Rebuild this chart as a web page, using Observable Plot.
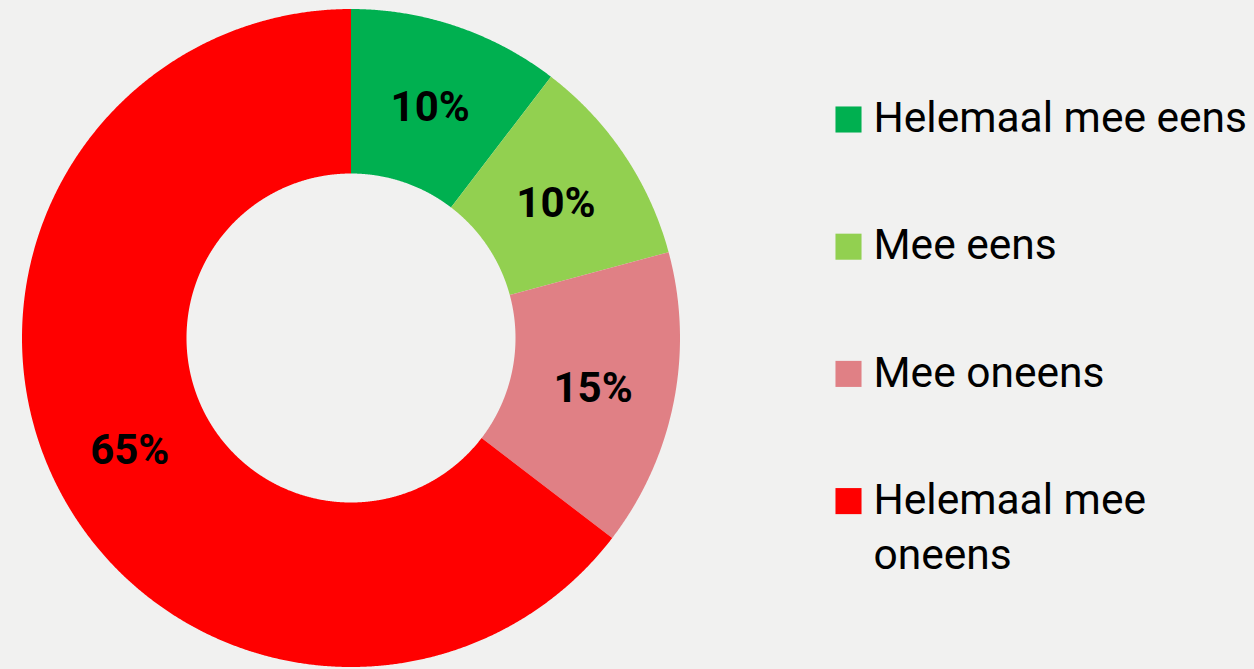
<!DOCTYPE html>
<html>
<head>
<meta charset="utf-8">
<script src="https://cdn.jsdelivr.net/npm/d3@7"></script>
<script src="https://cdn.jsdelivr.net/npm/@observablehq/plot@0.6"></script>
<style>
  html, body { margin: 0; padding: 0; background: #f1f1f0; }
  #chart { width: 1254px; height: 669px; }
</style>
</head>
<body>
<div id="chart"></div>
<script>
// ---- data ----
const categories = ["Helemaal mee eens", "Mee eens", "Mee oneens", "Helemaal mee oneens"];
const values = [10.4, 10.4, 14.6, 64.6];
const legendLabels = ["Helemaal mee eens", "Mee eens", "Mee oneens", "Helemaal mee\noneens"];
const colors = ["#00b050", "#92d050", "#e08085", "#ff0000"];

// ---- geometry (unit circle coordinates) ----
const inner = 0.5;
const outer = 1;
const pie = d3.pie().sort(null).value(d => d.value)(
  categories.map((c, i) => ({cat: c, value: values[i]}))
);

const polys = [];
pie.forEach(s => {
  const n = Math.max(8, Math.ceil((s.endAngle - s.startAngle) / 0.004));
  for (let k = 0; k <= n; k++) {
    const a = s.startAngle + (s.endAngle - s.startAngle) * k / n;
    polys.push({cat: s.data.cat, x: outer * Math.sin(a), y: outer * Math.cos(a)});
  }
  for (let k = n; k >= 0; k--) {
    const a = s.startAngle + (s.endAngle - s.startAngle) * k / n;
    polys.push({cat: s.data.cat, x: inner * Math.sin(a), y: inner * Math.cos(a)});
  }
});

const mid = (inner + outer) / 2;
const sliceLabels = pie.map(s => {
  const a = (s.startAngle + s.endAngle) / 2;
  return {cat: s.data.cat, x: mid * Math.sin(a), y: mid * Math.cos(a),
          label: d3.format(".0%")(s.data.value / 100)};
});

// legend placement in the same unit coordinates (center px 350.5/337.5, radius 329 px)
const R = 329, CX = 350.5, CY = 337.5;
const legend = categories.map((c, i) => ({
  cat: c,
  label: legendLabels[i],
  x: (848 - CX) / R,
  tx: (873 - CX) / R,
  y: (CY - (119 + 127.2 * i)) / R
}));

const chart = Plot.plot({
  width: 1254,
  height: 669,
  margin: 0,
  style: {background: "#f1f1f0", fontFamily: "Roboto, sans-serif", overflow: "visible"},
  x: {domain: [-1, 1], range: [CX - R, CX + R], axis: null},
  y: {domain: [-1, 1], range: [CY + R, CY - R], axis: null},
  color: {domain: categories, range: colors},
  marks: [
    Plot.line(polys, {x: "x", y: "y", z: "cat", fill: "cat", stroke: "none", curve: "linear"}),
    Plot.text(sliceLabels, {x: "x", y: "y", text: "label", fill: "#000", fontSize: 42, fontWeight: "bold", dy: 3}),
    Plot.dot(legend, {x: "x", y: "y", fill: "cat", symbol: "square", r: 14.7, stroke: "none"}),
    Plot.text(legend, {x: "tx", y: "y", text: "label", fill: "#000", fontSize: 42.5,
                       textAnchor: "start", lineAnchor: "top", dy: -26.5, lineHeight: 1.3})
  ]
});
document.getElementById("chart").appendChild(chart);
</script>
</body>
</html>
